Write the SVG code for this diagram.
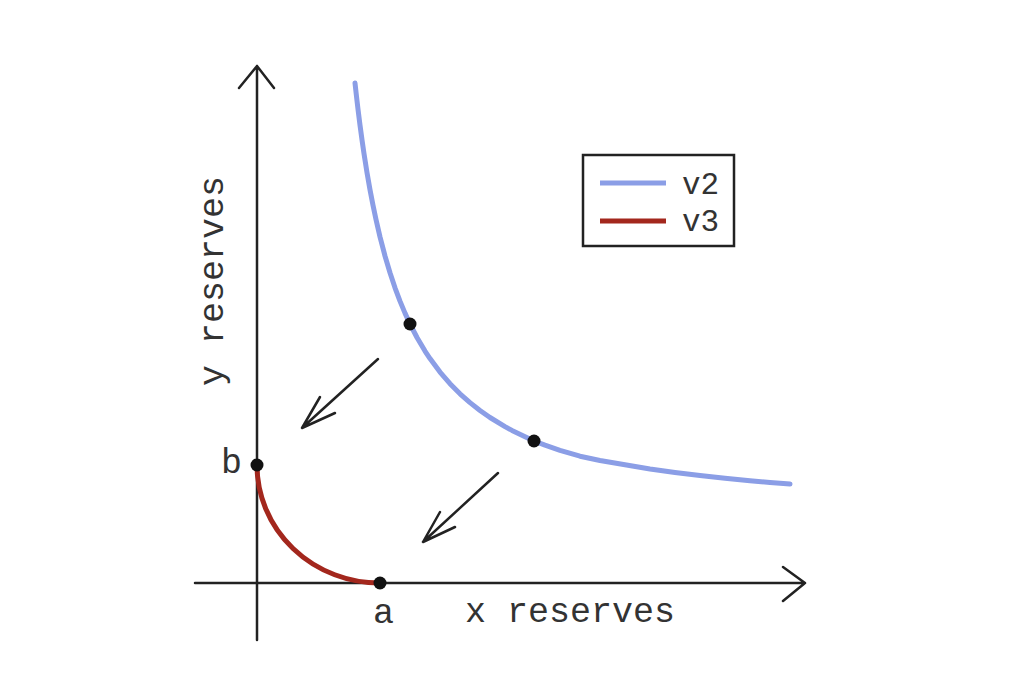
<svg xmlns="http://www.w3.org/2000/svg" width="1024" height="683" viewBox="0 0 1024 683">
<style>
.ax{stroke:#222;stroke-width:2.5;fill:none;stroke-linecap:round;stroke-linejoin:round}
.lbl{font-family:"Liberation Mono","DejaVu Sans Mono",monospace;font-size:35px;fill:#333}
.leg{font-family:"Liberation Mono","DejaVu Sans Mono",monospace;font-size:31px;fill:#333}
.dot{fill:#111}
</style>
<rect width="1024" height="683" fill="#fff"/>
<g id="axes">
<path class="ax" d="M257,640 L257,66 M239,88 L257,66 L274,88"/>
<path class="ax" d="M195,583 L805,583 M783,567 L805,583 L783,601"/>
</g>
<g id="curve-v2">
<polyline fill="none" stroke="#8b9ee6" stroke-width="5" stroke-linecap="round" stroke-linejoin="round" points="355,83 356,92.1 357,100.8 358,109.3 360,125.1 362,139.9 364,153.6 367,172.6 370,189.7 373,205.3 376,219.6 380,236.9 385,256 390,272.8 395,287.8 400,301.1 405,313.1 410,324 417,337.5 425,351.1 430,358.6 440,372.1 450,383.7 460,393.8 470,402.6 480,410.5 490,417.5 505,426.6 512,430.4 534,441 545,445.2 560,450.3 580,456.2 600,460.5 625,464.8 650,469 675,472.5 700,475.6 725,478.3 750,480.7 770,482.4 790,484"/>
</g>
<g id="curve-v3">
<path d="M257,465 A123,118 0 0 0 380,583" fill="none" stroke="#a3271d" stroke-width="5"/>
</g>
<g id="connectors">
<path class="ax" d="M378,359 L302,428 M320,397 L302,428 L335,413"/>
<path class="ax" d="M498,473 L423,542 M440,512 L423,542 L455,527"/>
</g>
<g id="points">
<circle class="dot" cx="410" cy="324" r="6.5"/>
<circle class="dot" cx="534" cy="441" r="6.5"/>
<circle class="dot" cx="257" cy="465" r="6.5"/>
<circle class="dot" cx="380" cy="583" r="6.5"/>
</g>
<g id="labels">
<text class="lbl" x="221" y="473">b</text>
<text class="lbl" x="373" y="623">a</text>
<text class="lbl" x="465" y="622">x reserves</text>
<text class="lbl" transform="translate(223,386) rotate(-90)">y reserves</text>
</g>
<g id="legend">
<rect x="583" y="155" width="151" height="91" fill="#fff" stroke="#222" stroke-width="2.5"/>
<line x1="600" y1="183" x2="666" y2="183" stroke="#8b9ee6" stroke-width="5"/>
<line x1="600" y1="221" x2="666" y2="221" stroke="#a3271d" stroke-width="5"/>
<text class="leg" x="682" y="194">v2</text>
<text class="leg" x="682" y="231">v3</text>
</g>
</svg>
